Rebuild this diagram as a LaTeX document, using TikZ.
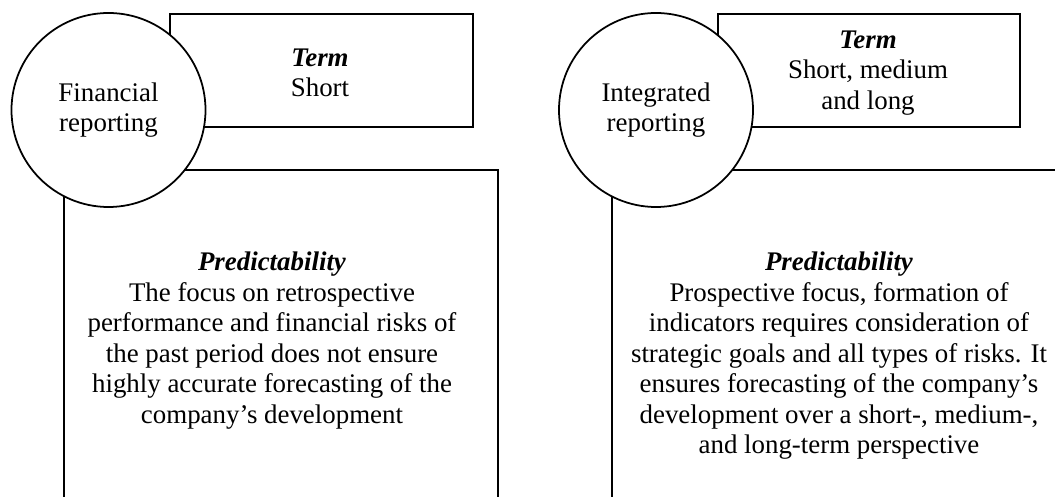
\documentclass[tikz,border=0pt]{standalone}
\usepackage{fontspec}
\setmainfont{Liberation Serif}
\usetikzlibrary{positioning}

\begin{document}
\fontsize{15.3}{17.4}\selectfont
\begin{tikzpicture}[
    line width=1pt,
    box/.style={rectangle, draw=black, anchor=north west, inner sep=0pt},
    report/.style={circle, draw=black, fill=white, minimum size=3.88cm,
      align=center, inner sep=0pt},
    caption/.style={align=center, inner sep=0pt},
  ]
    % page frame, the big boxes run past its lower edge
    \useasboundingbox (0,0) rectangle (21.1,-9.94);
    \clip (0,0) rectangle (21.1,-9.94);

    % Predictability boxes
    \node[box, minimum width=8.68cm, minimum height=8cm] (finpredbox) at (1.26,-3.38) {};
    \node[box, minimum width=9.4cm, minimum height=8cm] (intpredbox) at (12.22,-3.38) {};

    % Term boxes
    \node[box, minimum width=6.06cm, minimum height=2.26cm] (fintermbox) at (3.38,-0.26) {};
    \node[box, minimum width=6.04cm, minimum height=2.26cm] (intermbox) at (14.34,-0.26) {};

    % circles go on top of the box corners
    \node[report] (fin) at (2.17,-2.2) {Financial\\reporting};
    \node[report] (int) at (13.12,-2.2) {Integrated\\reporting};

    % Term texts
    \node[caption] (finterm) at (6.4,-1.46) {\textbf{\textit{Term}}\\Short};
    \node[caption] (intterm) at (17.36,-1.46) {\textbf{\textit{Term}}\\Short, medium\\and long};

    % Predictability texts
    \node[caption, anchor=north] (finpred) at (5.44,-5.02) {%
      \textbf{\textit{Predictability}}\\
      The focus on retrospective\\
      performance and financial risks of\\
      the past period does not ensure\\
      highly accurate forecasting of the\\
      company’s development};
    \node[caption, anchor=north] (intpred) at (16.78,-5.02) {%
      \textbf{\textit{Predictability}}\\
      Prospective focus, formation of\\
      indicators requires consideration of\\
      strategic goals and all types of risks. It\\
      ensures forecasting of the company’s\\
      development over a short-, medium-,\\
      and long-term perspective};
  \end{tikzpicture}
\end{document}
